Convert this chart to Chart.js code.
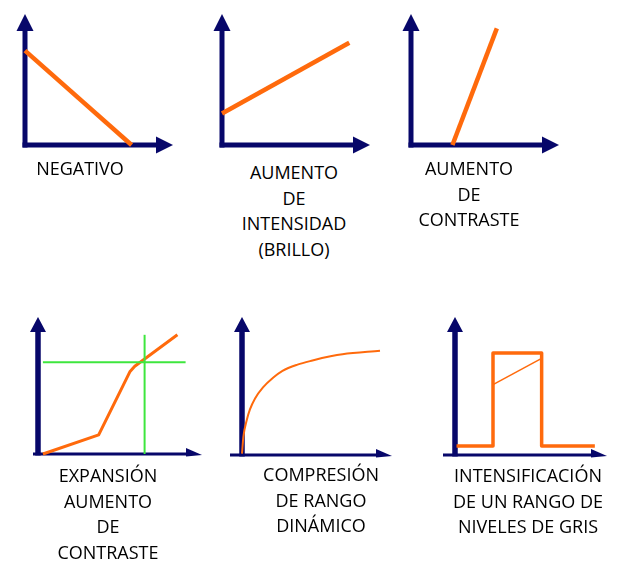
<!DOCTYPE html>
<html><head><meta charset="utf-8">
<script src="https://cdn.jsdelivr.net/npm/chart.js@4"></script>
<style>
html,body{margin:0;padding:0;background:#fff;width:621px;height:568px;overflow:hidden;}
.panel{position:absolute;}
.lbl{position:absolute;font-family:"Open Sans",sans-serif;font-size:18px;line-height:25.5px;color:#000;text-align:center;white-space:nowrap;transform:translateX(-50%);}
</style></head><body>
<script>
// ---- data (normalised 0..100 on each axis, 100 = arrow tip) ----
const negativoX = [0, 72];
const negativoY = [72, 0];
const brilloX = [0, 86];
const brilloY = [24, 78];
const contrasteX = [28, 58];
const contrasteY = [0, 89];
const expansionX = [3, 37, 56, 59, 85];
const expansionY = [0, 14, 60, 64, 87];
const umbralHX = [3, 90];
const umbralHY = [67, 67];
const umbralVX = [65, 65];
const umbralVY = [0, 87];
const compresionX = [0, 0.9, 3.1, 5.3, 8.7, 14, 20.7, 27, 37, 47, 59, 67, 92];
const compresionY = [1, 13, 25, 33, 41, 49, 56, 61, 65.5, 68.5, 71.5, 73, 75.5];
const rangoX = [1, 25, 25, 57, 57, 92];
const rangoY = [6.5, 6.5, 74, 74, 6.5, 6.5];
const rampaX = [25, 57];
const rampaY = [51, 70];
const labelNegativo = ["NEGATIVO"];
const labelBrillo = ["AUMENTO", "DE", "INTENSIDAD", "(BRILLO)"];
const labelContraste = ["AUMENTO", "DE", "CONTRASTE"];
const labelExpansion = ["EXPANSIÓN", "AUMENTO", "DE", "CONTRASTE"];
const labelCompresion = ["COMPRESIÓN", "DE RANGO", "DINÁMICO"];
const labelRango = ["INTENSIFICACIÓN", "DE UN RANGO DE", "NIVELES DE GRIS"];

const NAVY = '#07076a';
const ORANGE = '#ff6a0c';
const GREEN = '#3ee63e';

const arrowAxes = {
  id: 'arrowAxes',
  beforeDatasetsDraw(chart, args, o) {
    const {ctx, scales: {x, y}} = chart;
    const ox = x.getPixelForValue(0), oy = y.getPixelForValue(0);
    const tx = x.getPixelForValue(100), ty = y.getPixelForValue(100);
    ctx.save();
    ctx.fillStyle = NAVY; ctx.strokeStyle = NAVY; ctx.lineCap = 'butt';
    ctx.lineWidth = o.yw;
    ctx.beginPath(); ctx.moveTo(ox, oy + o.xw / 2); ctx.lineTo(ox, ty + o.yLen - 1); ctx.stroke();
    ctx.beginPath(); ctx.moveTo(ox, ty); ctx.lineTo(ox - o.yHalf, ty + o.yLen); ctx.lineTo(ox + o.yHalf, ty + o.yLen); ctx.closePath(); ctx.fill();
    ctx.lineWidth = o.xw;
    ctx.beginPath(); ctx.moveTo(ox - o.xLeft, oy); ctx.lineTo(tx - o.xLen + 1, oy); ctx.stroke();
    ctx.beginPath(); ctx.moveTo(tx, oy + o.xTipDy); ctx.lineTo(tx - o.xLen, oy - o.xUp); ctx.lineTo(tx - o.xLen, oy + o.xDown); ctx.closePath(); ctx.fill();
    ctx.restore();
  }
};

function pts(xs, ys) { return xs.map((v, i) => ({x: v, y: ys[i]})); }
function ds(xs, ys, color, w, extra) {
  return Object.assign({data: pts(xs, ys), borderColor: color, borderWidth: w, pointRadius: 0,
    fill: false, clip: false, tension: 0, borderCapStyle: 'butt', borderJoinStyle: 'round'}, extra || {});
}

function panel(g, datasets, axis, lines, lbl) {
  const padL = Math.max(14, axis.xLeft + 6), pad = 14;
  const div = document.createElement('div');
  div.className = 'panel';
  div.style.left = (g.ox - padL) + 'px';
  div.style.top = (g.ty - pad) + 'px';
  div.style.width = (g.tx - g.ox + padL + pad) + 'px';
  div.style.height = (g.oy - g.ty + 2 * pad) + 'px';
  const cv = document.createElement('canvas');
  div.appendChild(cv);
  document.body.appendChild(div);
  new Chart(cv, {
    type: 'line',
    data: {datasets},
    options: {
      responsive: true, maintainAspectRatio: false, animation: false,
      layout: {padding: {left: padL, right: pad, top: pad, bottom: pad}},
      scales: {
        x: {type: 'linear', min: 0, max: 100, display: false},
        y: {type: 'linear', min: 0, max: 100, display: false}
      },
      plugins: {legend: {display: false}, tooltip: {enabled: false}, arrowAxes: axis}
    },
    plugins: [arrowAxes]
  });
  const t = document.createElement('div');
  t.className = 'lbl';
  t.style.left = lbl.cx + 'px';
  t.style.top = lbl.top + 'px';
  t.innerHTML = lines.join('<br>');
  document.body.appendChild(t);
}

const topAxis = {xw: 5, yw: 5, yLen: 17, yHalf: 8.5, xLen: 17, xUp: 8.5, xDown: 8.5, xTipDy: 0, xLeft: 2.5};
const botAxis = (left) => ({xw: 3, yw: 5.5, yLen: 15, yHalf: 8, xLen: 16, xUp: 6, xDown: 2.5, xTipDy: 1, xLeft: left});

panel({ox: 25, oy: 145, tx: 173, ty: 14}, [ds(negativoX, negativoY, ORANGE, 4.5)], topAxis, labelNegativo, {cx: 80, top: 156});
panel({ox: 222, oy: 145, tx: 370, ty: 14}, [ds(brilloX, brilloY, ORANGE, 4.5)], topAxis, labelBrillo, {cx: 294, top: 160});
panel({ox: 411, oy: 145, tx: 559, ty: 14}, [ds(contrasteX, contrasteY, ORANGE, 4.5)], topAxis, labelContraste, {cx: 469, top: 156});
panel({ox: 38, oy: 454, tx: 202, ty: 317}, [
  ds(umbralHX, umbralHY, GREEN, 2),
  ds(umbralVX, umbralVY, GREEN, 2),
  ds(expansionX, expansionY, ORANGE, 3)
], botAxis(5), labelExpansion, {cx: 108, top: 463});
panel({ox: 242, oy: 455, tx: 392, ty: 317}, [
  ds(compresionX, compresionY, ORANGE, 2, {cubicInterpolationMode: 'monotone'})
], botAxis(12), labelCompresion, {cx: 321, top: 462});
panel({ox: 455, oy: 455, tx: 607, ty: 317}, [
  ds(rangoX, rangoY, ORANGE, 3.5),
  ds(rampaX, rampaY, ORANGE, 1.5)
], botAxis(12), labelRango, {cx: 528, top: 463});
</script>
</body></html>
